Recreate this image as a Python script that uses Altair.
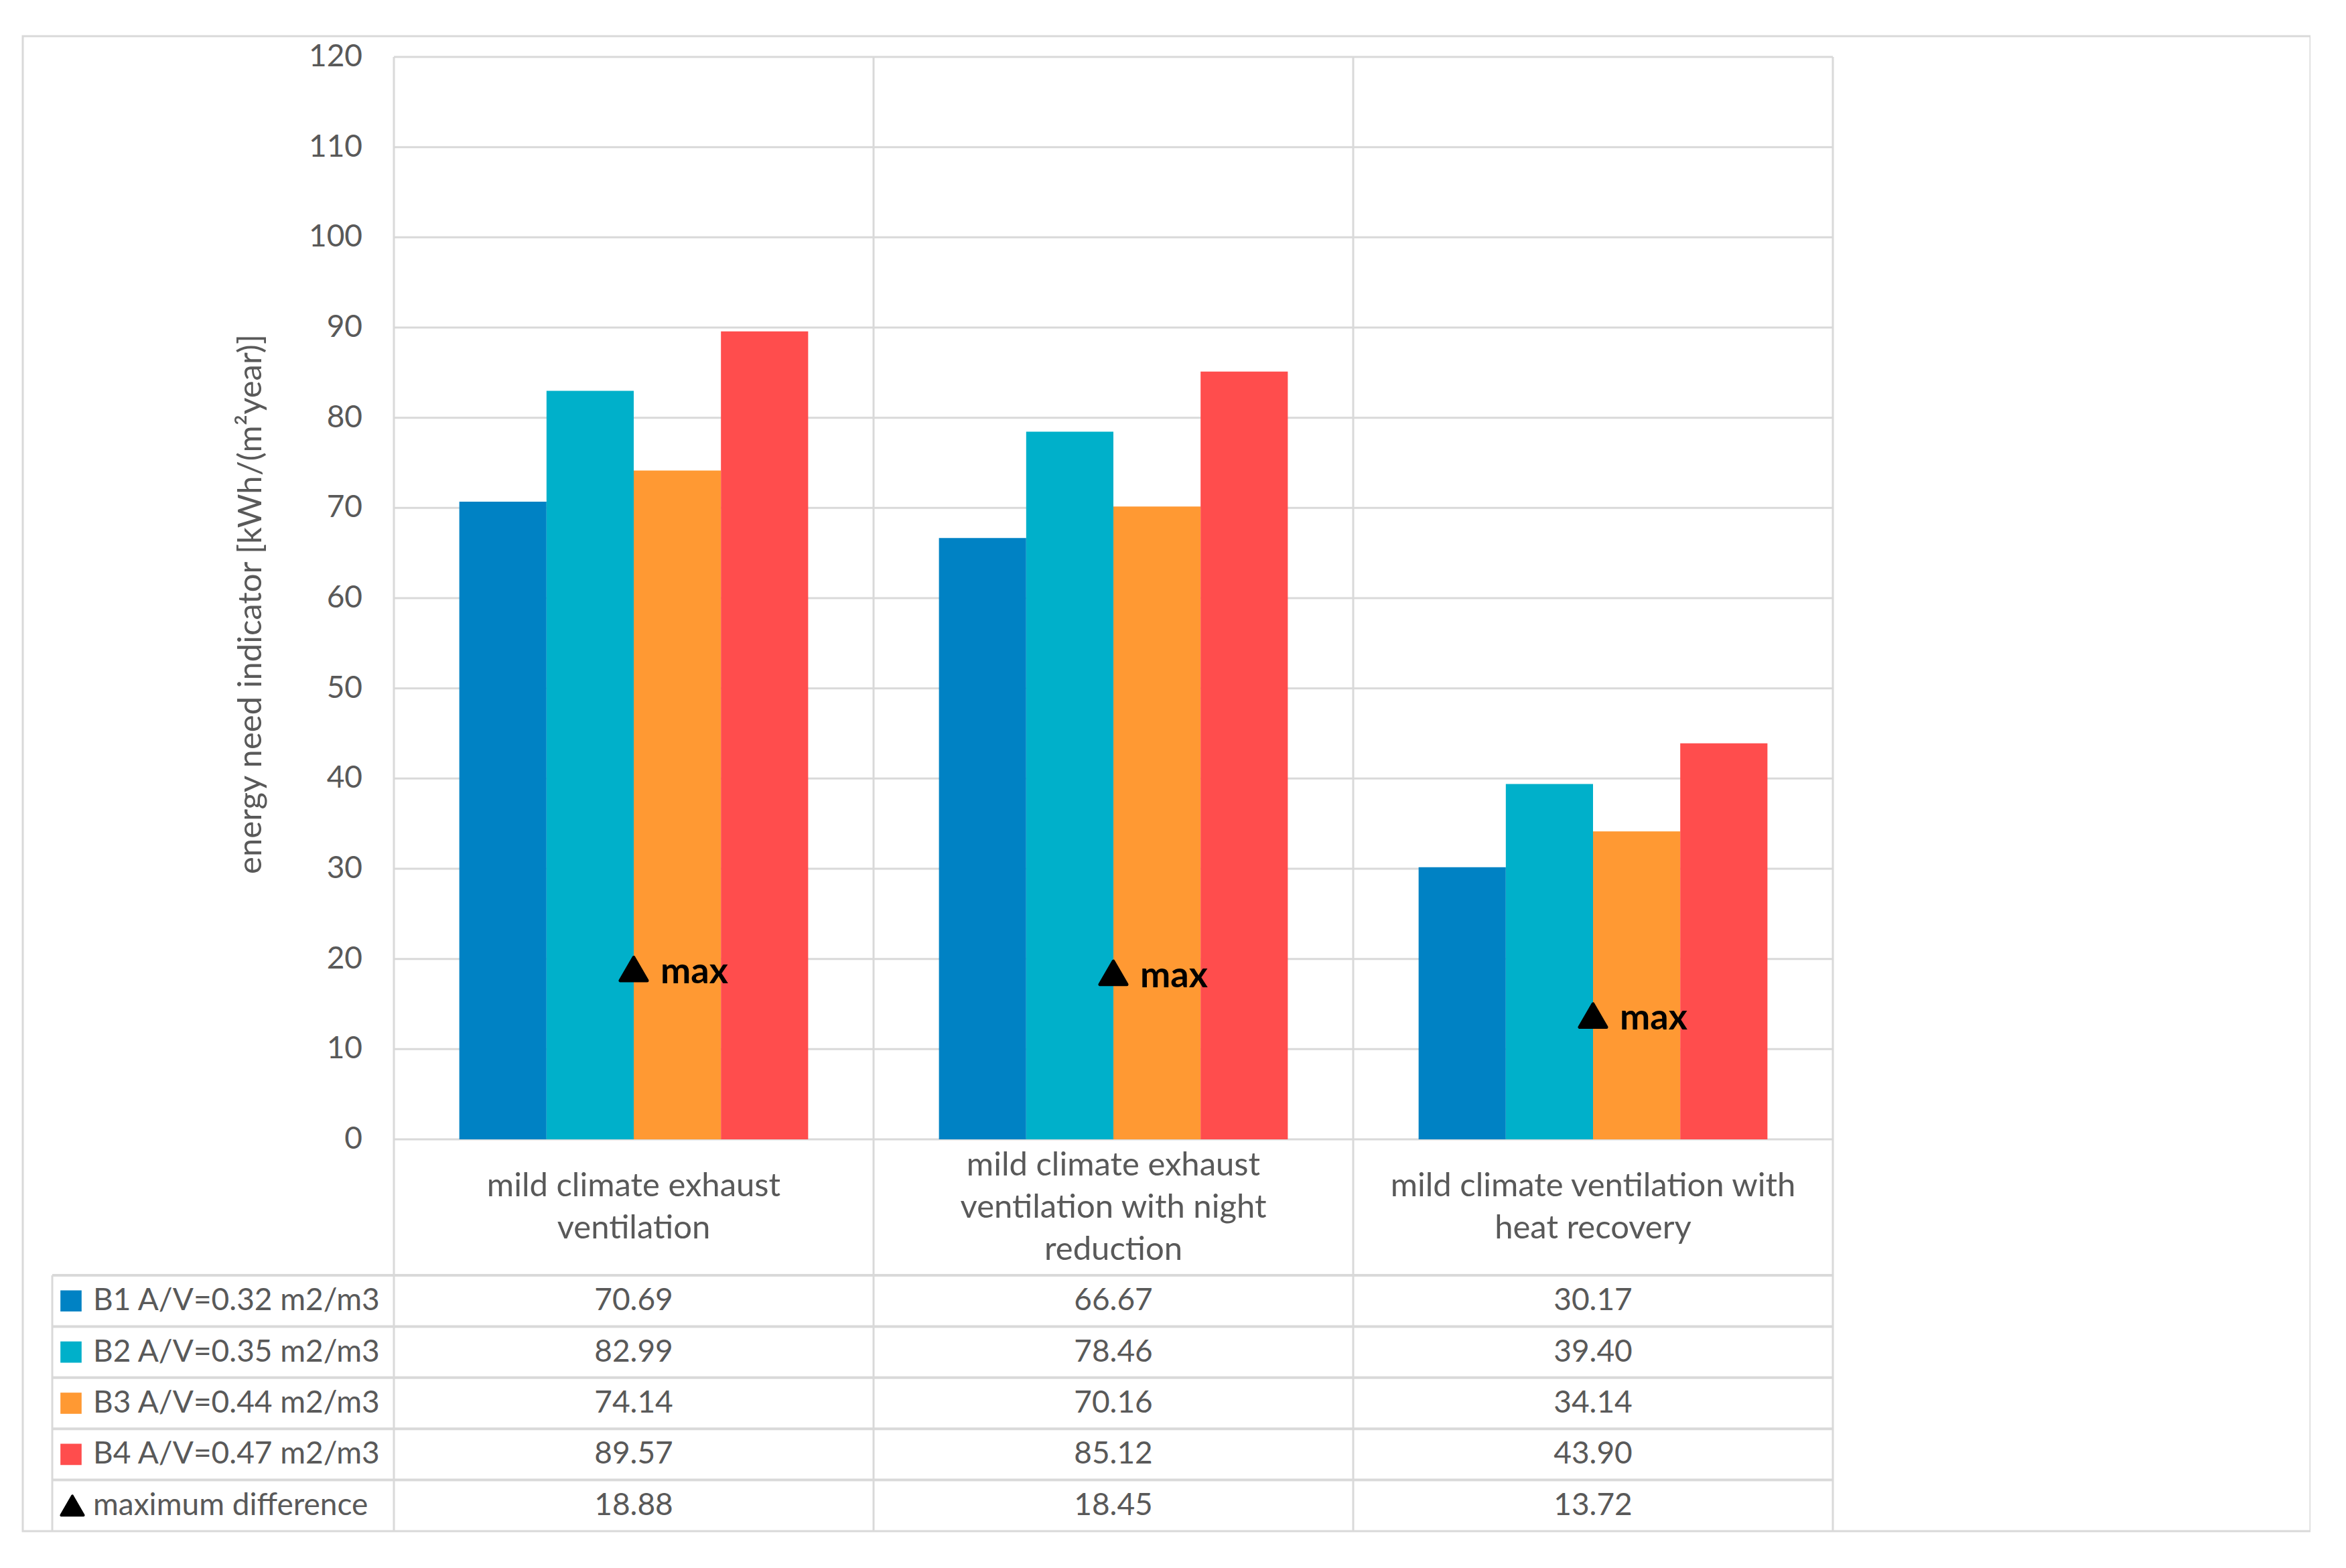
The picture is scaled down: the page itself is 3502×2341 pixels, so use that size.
import altair as alt
import pandas as pd

# ---------------- data ----------------
categories = [
    "mild climate exhaust ventilation",
    "mild climate exhaust ventilation with night reduction",
    "mild climate ventilation with heat recovery",
]
category_lines = [
    ["mild climate exhaust", "ventilation"],
    ["mild climate exhaust", "ventilation with night", "reduction"],
    ["mild climate ventilation with", "heat recovery"],
]
series = ["B1 A/V=0.32 m2/m3", "B2 A/V=0.35 m2/m3",
          "B3 A/V=0.44 m2/m3", "B4 A/V=0.47 m2/m3"]
b1 = [70.69, 66.67, 30.17]
b2 = [82.99, 78.46, 39.40]
b3 = [74.14, 70.16, 34.14]
b4 = [89.57, 85.12, 43.90]
max_diff = [18.88, 18.45, 13.72]
max_label = "maximum difference"
y_ticks = [0, 10, 20, 30, 40, 50, 60, 70, 80, 90, 100, 110, 120]
y_title = "energy need indicator [kWh/(m\u00b2year)]"
colors = ["#0082C4", "#00B0CA", "#FF9933", "#FF4D4D"]

# ---------------- tables ----------------
series_values = [b1, b2, b3, b4]
bars_df = pd.DataFrame([
    {"category": c, "series": s, "value": v[i]}
    for s, v in zip(series, series_values)
    for i, c in enumerate(categories)
])
max_df = pd.DataFrame({"category": categories, "value": max_diff})
cat_df = pd.DataFrame({"category": categories})
catline_df = pd.DataFrame([
    {"category": c, "line": ln, "li": j, "n": len(lines)}
    for c, lines in zip(categories, category_lines)
    for j, ln in enumerate(lines)
])
ticks_df = pd.DataFrame({"tick": y_ticks})
rows = series + [max_label]
table_df = pd.DataFrame(
    [{"category": c, "row": s, "text": f"{v[i]:.2f}"}
     for s, v in zip(series, series_values) for i, c in enumerate(categories)]
    + [{"category": c, "row": max_label, "text": f"{max_diff[i]:.2f}"}
       for i, c in enumerate(categories)]
)
rowlab_df = pd.DataFrame({"row": rows})
sq_df = pd.DataFrame({"row": series})
title_df = pd.DataFrame({"t": [y_title]})

# ---------------- layout ----------------
W, H = 3415, 2232
PLOT_L, PLOT_R = 554, 2702
PLOT_T, PLOT_B = 31, 1647
TABLE_T = 1850
LAB_L = 44
LINE_H = 63
GRID = "#D9D9D9"
TXT = "#595959"
FONT = "Lato"
FS = 46
FS_BIG = 49

xscale = alt.Scale(domain=categories, range=[PLOT_L, PLOT_R],
                   paddingInner=0, paddingOuter=0)
yscale = alt.Scale(domain=[0, 120], range=[PLOT_B, PLOT_T], nice=False)
rscale = alt.Scale(domain=rows, range=[TABLE_T, H], paddingInner=0, paddingOuter=0)
mid = (PLOT_B + TABLE_T) / 2
lscale = alt.Scale(domain=[-1, 1], range=[mid - LINE_H, mid + LINE_H], nice=False, zero=False)
cscale = alt.Scale(domain=series, range=colors)

X = alt.X("category:N", scale=xscale, axis=None)

grid = alt.Chart(ticks_df).mark_rule(color=GRID, strokeWidth=3).encode(
    y=alt.Y("tick:Q", scale=yscale, axis=None),
    x=alt.value(PLOT_L), x2=alt.value(PLOT_R),
)
vlines = alt.Chart(cat_df).mark_rule(color=GRID, strokeWidth=3).encode(
    x=alt.X("category:N", scale=xscale, axis=None, bandPosition=0),
    y=alt.value(PLOT_T), y2=alt.value(H),
)
vline_end = alt.Chart(cat_df.tail(1)).mark_rule(color=GRID, strokeWidth=3).encode(
    x=alt.X("category:N", scale=xscale, axis=None, bandPosition=1),
    y=alt.value(PLOT_T), y2=alt.value(H),
)
bars = alt.Chart(bars_df).mark_bar(opacity=1).encode(
    x=X,
    xOffset=alt.XOffset("series:N", scale=alt.Scale(domain=series, paddingOuter=0.75,
                                                    paddingInner=0)),
    y=alt.Y("value:Q", scale=yscale, axis=None),
    color=alt.Color("series:N", scale=cscale, legend=None),
)
tick_labels = alt.Chart(ticks_df).mark_text(
    align="right", baseline="middle", fontSize=FS, color=TXT, font=FONT
).encode(
    y=alt.Y("tick:Q", scale=yscale, axis=None),
    x=alt.value(507),
    text=alt.Text("tick:Q"),
)
ytitle = alt.Chart(title_df).mark_text(
    angle=270, align="center", baseline="middle", fontSize=FS_BIG, color=TXT, font=FONT
).encode(x=alt.value(341), y=alt.value(848), text="t:N")
tri = alt.Chart(max_df).mark_point(
    shape="triangle-up", filled=True, size=1600, color="black", stroke="black",
    strokeWidth=5, strokeJoin="round", opacity=1
).encode(x=X, y=alt.Y("value:Q", scale=yscale, axis=None))
maxtxt = alt.Chart(max_df).mark_text(
    text="max", align="left", baseline="alphabetic", dx=40, dy=21,
    fontSize=54, fontWeight="bold", color="black", font=FONT
).encode(x=X, y=alt.Y("value:Q", scale=yscale, axis=None))

groupA = alt.layer(grid, vlines, vline_end, bars, tick_labels, ytitle, tri, maxtxt)

catlab = alt.Chart(catline_df).transform_calculate(
    pos="datum.li - (datum.n - 1) / 2"
).mark_text(
    align="center", baseline="middle", fontSize=FS_BIG, color=TXT, font=FONT
).encode(x=X, y=alt.Y("pos:Q", scale=lscale, axis=None), text="line:N")

R = alt.Y("row:N", scale=rscale, axis=None)
hlines = alt.Chart(rowlab_df).mark_rule(color=GRID, strokeWidth=4).encode(
    y=alt.Y("row:N", scale=rscale, axis=None, bandPosition=0),
    x=alt.value(LAB_L), x2=alt.value(PLOT_R),
)
leftline = alt.Chart(rowlab_df.head(1)).mark_rule(color=GRID, strokeWidth=3).encode(
    y=alt.Y("row:N", scale=rscale, axis=None, bandPosition=0),
    y2=alt.value(H), x=alt.value(LAB_L),
)
cells = alt.Chart(table_df).mark_text(
    align="center", baseline="middle", fontSize=FS, color=TXT, font=FONT
).encode(x=X, y=R, text="text:N")
rowtext = alt.Chart(rowlab_df).mark_text(
    align="left", baseline="middle", fontSize=FS, color=TXT, font=FONT
).encode(x=alt.value(105), y=R, text="row:N")
squares = alt.Chart(sq_df).mark_square(size=1000, opacity=1).encode(
    x=alt.value(72), y=R,
    color=alt.Color("row:N", scale=cscale, legend=None),
)
legtri = alt.Chart(rowlab_df.tail(1)).mark_point(
    shape="triangle-up", filled=True, size=1100, color="black", stroke="black",
    strokeWidth=4, strokeJoin="round", opacity=1
).encode(x=alt.value(74), y=alt.Y("row:N", scale=rscale, axis=None))

groupB = alt.layer(hlines, leftline, cells, rowtext, squares, legtri)

chart = alt.layer(groupA, groupB, catlab).resolve_scale(y="independent").properties(
    width=W, height=H,
    padding={"left": 26, "top": 46, "right": 0, "bottom": 0},
    background="white",
).configure_view(stroke=GRID, strokeWidth=3)

chart.save("out.html", embed_options={"renderer": "svg", "actions": False})
